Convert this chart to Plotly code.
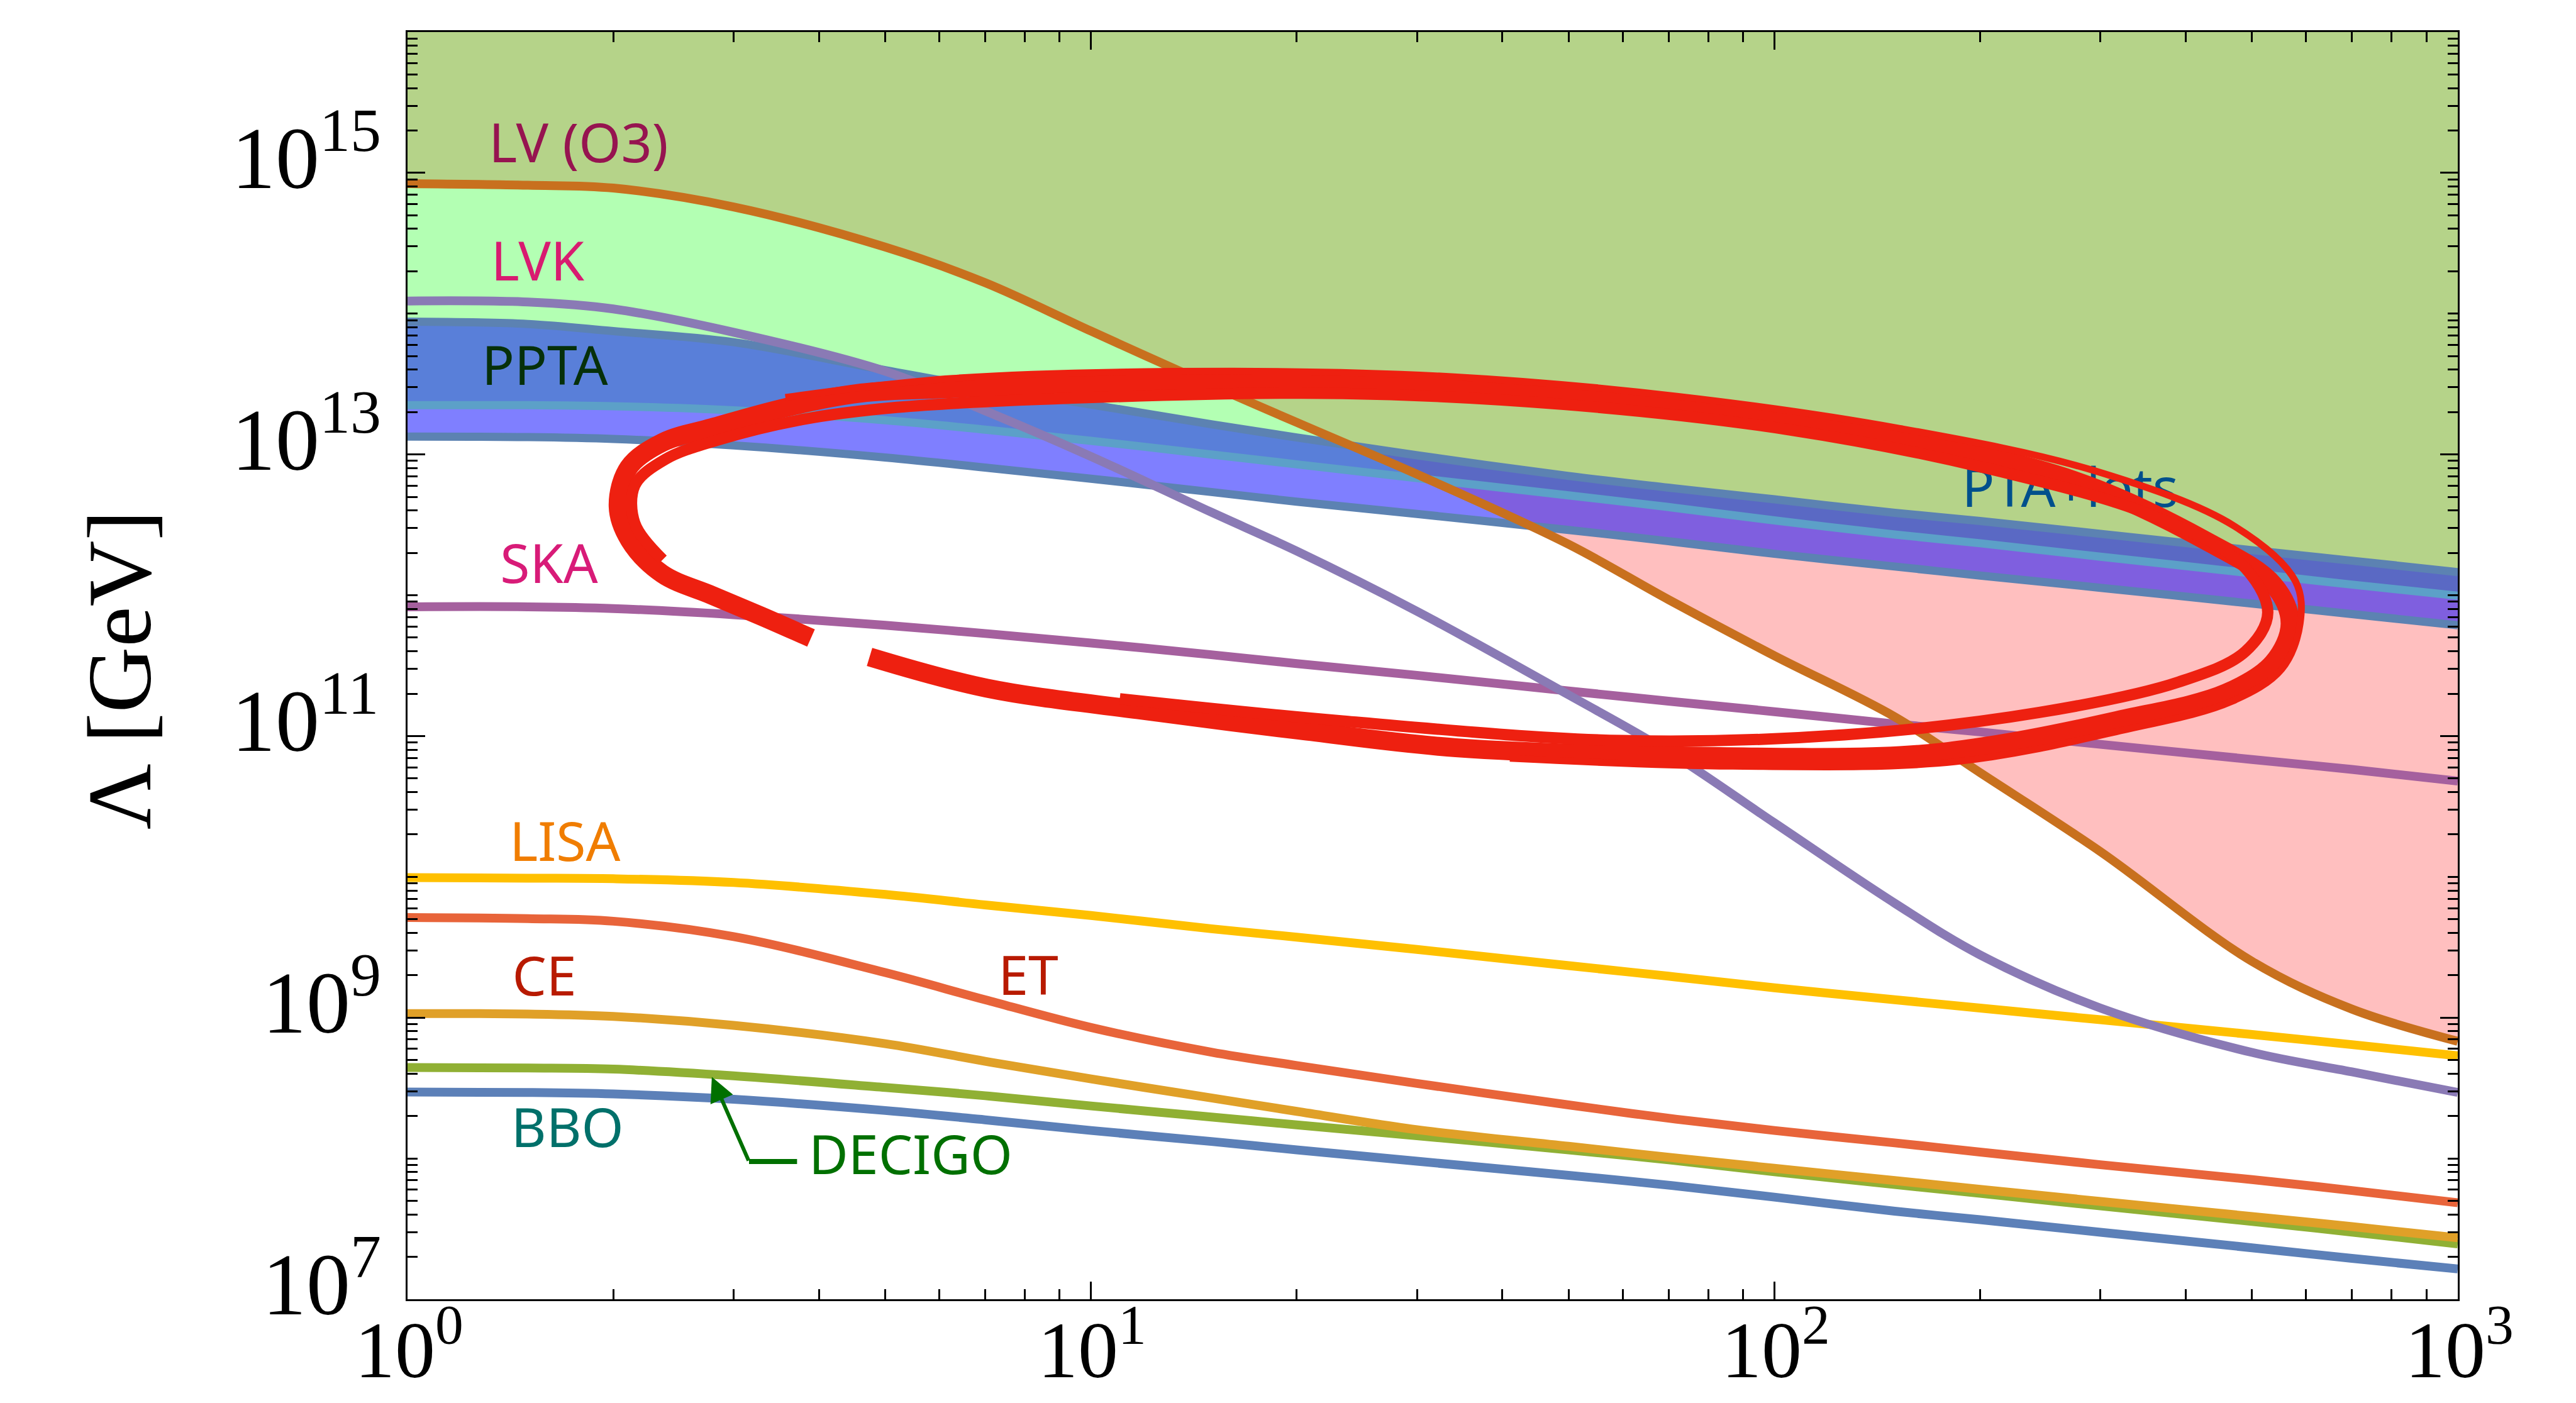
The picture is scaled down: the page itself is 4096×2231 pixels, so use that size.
import numpy as np
import plotly.graph_objects as go

# ---------------- data ----------------
freq = [1, 1.5, 2, 3, 5, 7, 10, 15, 20, 30, 50, 70, 100, 150, 200, 300, 500, 700, 1000]

lv_o3 = [8.39e14, 8.17e14, 7.80e14, 5.73e14, 2.97e14, 1.66e14, 7.52e13, 3.10e13, 1.69e13, 7.23e12,
         2.30e12, 9.31e11, 3.72e11, 1.37e11, 5.50e10, 1.51e10, 2.51e9, 1.15e9, 6.79e8]
lvk = [1.23e14, 1.21e14, 1.08e14, 7.38e13, 3.90e13, 2.04e13, 9.68e12, 3.89e12, 2.06e12, 7.69e11,
       1.96e11, 7.74e10, 2.42e10, 6.50e9, 2.79e9, 1.17e9, 5.66e8, 4.12e8, 2.94e8]
pta_upper = [8.77e13, 8.45e13, 7.52e13, 6.27e13, 3.97e13, 2.96e13, 2.26e13, 1.64e13, 1.32e13, 9.86e12,
             7.03e12, 5.81e12, 4.80e12, 3.85e12, 3.37e12, 2.73e12, 2.09e12, 1.76e12, 1.46e12]
pta_mid = [2.24e13, 2.24e13, 2.20e13, 2.06e13, 1.75e13, 1.50e13, 1.25e13, 1.00e13, 8.51e12, 6.79e12,
           5.12e12, 4.23e12, 3.40e12, 2.70e12, 2.34e12, 1.88e12, 1.43e12, 1.19e12, 9.93e11]
pta_lower = [1.34e13, 1.33e13, 1.29e13, 1.16e13, 9.51e12, 8.07e12, 6.73e12, 5.41e12, 4.62e12, 3.78e12,
             2.91e12, 2.42e12, 1.97e12, 1.60e12, 1.38e12, 1.13e12, 8.73e11, 7.35e11, 6.12e11]
ska = [8.28e11, 8.28e11, 8.05e11, 7.28e11, 6.12e11, 5.35e11, 4.58e11, 3.78e11, 3.27e11, 2.70e11,
       2.09e11, 1.77e11, 1.49e11, 1.22e11, 1.07e11, 8.73e10, 6.82e10, 5.79e10, 4.79e10]
lisa = [9.89e9, 9.79e9, 9.70e9, 9.12e9, 7.50e9, 6.32e9, 5.32e9, 4.28e9, 3.73e9, 3.05e9,
        2.34e9, 1.97e9, 1.63e9, 1.34e9, 1.17e9, 9.66e8, 7.59e8, 6.43e8, 5.36e8]
et = [5.14e9, 5.05e9, 4.84e9, 3.76e9, 2.09e9, 1.34e9, 8.51e8, 5.69e8, 4.57e8, 3.41e8,
      2.40e8, 1.93e8, 1.58e8, 1.29e8, 1.11e8, 9.02e7, 7.08e7, 5.92e7, 4.84e7]
ce = [1.07e9, 1.06e9, 1.02e9, 8.81e8, 6.53e8, 4.90e8, 3.67e8, 2.69e8, 2.16e8, 1.60e8,
      1.22e8, 1.02e8, 8.51e7, 6.97e7, 6.03e7, 4.95e7, 3.87e7, 3.28e7, 2.73e7]
decigo = [4.43e8, 4.39e8, 4.31e8, 3.86e8, 3.19e8, 2.79e8, 2.36e8, 1.97e8, 1.73e8, 1.45e8,
          1.15e8, 9.77e7, 8.04e7, 6.53e7, 5.65e7, 4.60e7, 3.57e7, 3.00e7, 2.47e7]
bbo = [2.96e8, 2.94e8, 2.87e8, 2.63e8, 2.19e8, 1.88e8, 1.58e8, 1.32e8, 1.15e8, 9.55e7,
       7.59e7, 6.46e7, 5.31e7, 4.22e7, 3.67e7, 2.99e7, 2.32e7, 1.95e7, 1.64e7]

# hand-drawn red ring (three overlapping brush strokes)
ring_f = [3.894, 3.295, 2.788, 2.358, 2.112, 2.033, 2.107, 2.363, 2.788, 3.585, 4.611, 6.276, 10.03,
          15.51, 34.20, 75.40, 152.7, 274.3, 425.8, 537.3, 568.4, 537.3, 458.0, 317.6, 204.7, 152.7,
          75.40, 34.20, 20.17, 11.92, 7.036, 4.743]
ring_L = [4.97e11, 7.10e11, 1.00e12, 1.42e12, 2.47e12, 4.27e12, 8.07e12, 1.22e13, 1.55e13, 2.16e13,
          2.73e13, 2.94e13, 3.22e13, 3.31e13, 3.02e13, 2.20e13, 1.29e13, 6.55e12, 2.47e12, 1.19e12,
          6.30e11, 3.33e11, 2.02e11, 1.29e11, 8.49e10, 7.27e10, 7.21e10, 8.26e10, 1.10e11, 1.52e11,
          2.19e11, 3.65e11]
ring2_f = [2.363, 2.151, 2.151, 2.385, 2.851, 3.779, 5.200, 10.03, 23.35, 49.51, 104.9, 202.4, 355.5,
           479.9, 527.2, 489.0, 390.5, 244.2, 126.6, 59.73, 23.35, 11.02]
ring2_L = [1.79e12, 3.24e12, 6.03e12, 9.25e12, 1.27e13, 1.77e13, 2.16e13, 2.54e13, 2.71e13, 2.26e13,
           1.50e13, 8.07e12, 3.72e12, 1.71e12, 7.55e11, 3.99e11, 2.42e11, 1.47e11, 1.02e11, 9.29e10,
           1.28e11, 1.84e11]
ring3_f = [3.572, 6.276, 16.04, 33.99, 72.04, 152.7, 294.6, 471.0, 579.1, 587.9, 552.6, 466.6, 323.6,
           184.3, 86.96, 41.02]
ring3_L = [2.54e13, 3.47e13, 3.90e13, 3.56e13, 2.59e13, 1.53e13, 7.64e12, 3.10e12, 1.25e12, 6.30e11,
           2.99e11, 1.76e11, 1.10e11, 6.58e10, 6.11e10, 6.95e10]

x_ticks = [1, 10, 100, 1000]
x_exps = ["0", "1", "2", "3"]
y_ticks = [1e7, 1e9, 1e11, 1e13, 1e15]
y_exps = ["7", "9", "11", "13", "15"]

label_text = ["LV (O3)", "LVK", "PPTA", "SKA", "LISA", "CE", "ET", "BBO", "DECIGO"]
label_color = ["#961450", "#d81b70", "#06300a", "#d81b78", "#f07d00", "#b81a00", "#b81a00", "#00706a", "#007000"]
label_f = [1.315, 1.325, 1.284, 1.366, 1.410, 1.423, 7.318, 1.418, 3.865]
label_L = [1.49e15, 2.14e14, 3.90e13, 1.52e12, 1.62e10, 1.79e9, 1.82e9, 1.50e8, 9.69e7]

Y_TOP = 1e16
X_RANGE = [0, 3]
Y_RANGE = [7, 16]

# ---------------- figure ----------------
fig = go.Figure()
top = [Y_TOP] * len(freq)
rev = freq[::-1]


def region(lower, color):
    fig.add_trace(go.Scatter(x=freq + rev, y=list(lower) + top, fill="toself", fillcolor=color,
                             mode="lines", line=dict(width=0), hoverinfo="skip", showlegend=False))


region(lv_o3, "#ffbfbf")                                   # excluded by LV (O3) only
region(pta_mid, "#b3ffb3")                                 # excluded by PTA only
region(list(np.maximum(lv_o3, pta_mid)), "#b5d389")        # excluded by both

# PTA band (semi-transparent blue)
fig.add_trace(go.Scatter(x=freq + rev, y=pta_upper + pta_lower[::-1], fill="toself",
                         fillcolor="rgba(0,0,255,0.5)", mode="lines", line=dict(width=0),
                         hoverinfo="skip", showlegend=False))

LW = 14


def curve(vals, color, width=LW):
    fig.add_trace(go.Scatter(x=freq, y=vals, mode="lines",
                             line=dict(color=color, width=width, shape="spline", smoothing=1.0),
                             hoverinfo="skip", showlegend=False))


curve(pta_upper, "#5c82b2", 13)
curve(pta_lower, "#5c82b2", 13)
curve(pta_mid, "#5ca0c8", 13)
curve(bbo, "#5c80b8")
curve(decigo, "#90b034")
curve(ce, "#e0a028")
curve(et, "#e8643a")
curve(lisa, "#ffc000")
curve(ska, "#a5609e")
curve(lvk, "#8a7ab5")
curve(lv_o3, "#c8701e")

# labels
fig.add_trace(go.Scatter(x=label_f, y=label_L, mode="text", text=label_text, textposition="middle right",
                         textfont=dict(family="Noto Sans", size=86, color=label_color),
                         hoverinfo="skip", showlegend=False))
fig.add_trace(go.Scatter(x=[271], y=[5.31e12], mode="text", text=["PTA+lots"], textposition="middle center",
                         textfont=dict(family="Noto Sans", size=86, color="#00508c"),
                         hoverinfo="skip", showlegend=False))

# DECIGO leader + arrow
fig.add_trace(go.Scatter(x=[3.16, 3.715], y=[9.51e7, 9.51e7], mode="lines",
                         line=dict(color="#007000", width=8), hoverinfo="skip", showlegend=False))
fig.add_annotation(x=np.log10(2.788), y=np.log10(3.79e8), ax=np.log10(3.16), ay=np.log10(9.51e7),
                   xref="x", yref="y", axref="x", ayref="y", text="", showarrow=True,
                   arrowhead=2, arrowsize=1.3, arrowwidth=6, arrowcolor="#007000")

# red ring
RED = "#ee2010"
for rf, rL, w in [(ring_f, ring_L, 30), (ring2_f, ring2_L, 18), (ring3_f, ring3_L, 11)]:
    fig.add_trace(go.Scatter(x=rf, y=rL, mode="lines",
                             line=dict(color=RED, width=w, shape="spline", smoothing=1.0),
                             hoverinfo="skip", showlegend=False))

# tick labels (annotations, left-anchored so that their visible extent is controlled)
YFS = 140
XFS = 128


def label_width(exp, size):
    return size * (1.0 + 0.35 * len(exp))


for t, e in zip(x_ticks, x_exps):
    fig.add_annotation(x=np.log10(t), y=0, xref="x", yref="paper", text="10<sup>%s</sup>" % e,
                       showarrow=False, xanchor="left", yanchor="top",
                       xshift=-label_width(e, XFS) / 2, yshift=12,
                       font=dict(family="Liberation Serif", size=XFS, color="black"))
for t, e in zip(y_ticks, y_exps):
    fig.add_annotation(x=0, y=np.log10(t), xref="paper", yref="y", text="10<sup>%s</sup>" % e,
                       showarrow=False, xanchor="left", yanchor="middle",
                       xshift=-44 - label_width(e, YFS), yshift=34,
                       font=dict(family="Liberation Serif", size=YFS, color="black"))

# axis title
fig.add_annotation(text="Λ [GeV]", xref="paper", yref="paper", x=-0.1405, y=0.4966,
                   xanchor="center", yanchor="middle", textangle=-90, showarrow=False,
                   font=dict(family="Liberation Serif", size=145, color="black"))

x_minor = [k * 10 ** e for e in range(0, 3) for k in range(2, 10)]
y_minor = [k * 10 ** e for e in range(7, 16) for k in range(1, 10) if not (k == 1 and e % 2 == 1)]

common = dict(ticks="inside", ticklen=28, tickwidth=3, tickcolor="black",
              showline=True, linewidth=3, linecolor="black", mirror="allticks",
              showgrid=False, zeroline=False, showticklabels=False, automargin=False)
fig.update_xaxes(type="log", range=X_RANGE, tickmode="array", tickvals=x_ticks, **common,
                 minor=dict(tickmode="array", tickvals=x_minor, ticks="inside", ticklen=16,
                            tickwidth=3, tickcolor="black", showgrid=False))
fig.update_yaxes(type="log", range=Y_RANGE, tickmode="array", tickvals=y_ticks, **common,
                 minor=dict(tickmode="array", tickvals=y_minor, ticks="inside", ticklen=16,
                            tickwidth=3, tickcolor="black", showgrid=False))

fig.update_layout(width=4096, height=2231, template="none",
                  margin=dict(l=640, r=196, t=43, b=173, pad=0),
                  paper_bgcolor="white", plot_bgcolor="white", showlegend=False)

fig.write_html("out.html")
